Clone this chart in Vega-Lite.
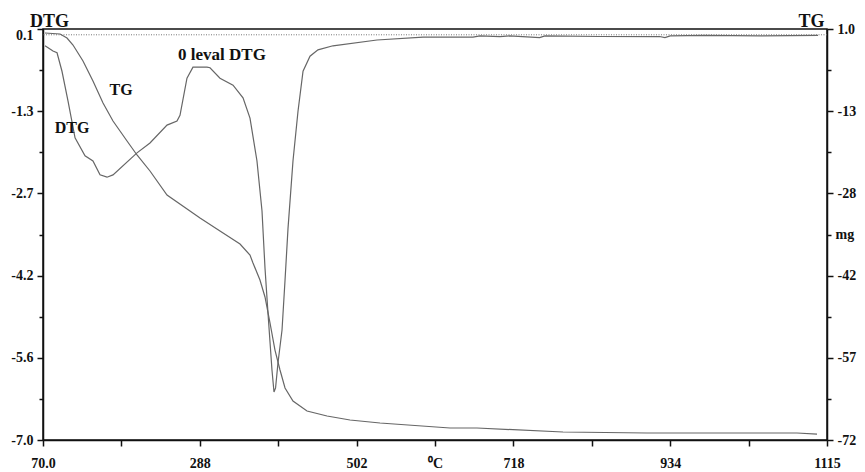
{
  "$schema": "https://vega.github.io/schema/vega-lite/v6.json",
  "width": 784,
  "height": 411,
  "autosize": "none",
  "padding": {"left": 43, "top": 29, "right": 38, "bottom": 32},
  "background": "white",
  "config": {
    "view": {"stroke": "#111", "strokeWidth": 1.5},
    "axis": {
      "grid": false,
      "domainColor": "#111",
      "domainWidth": 1.5,
      "tickColor": "#111",
      "tickWidth": 1.5,
      "labelFont": "Liberation Serif",
      "labelFontWeight": "bold",
      "labelFontSize": 14,
      "labelColor": "#111",
      "titleFont": "Liberation Serif",
      "titleFontWeight": "bold",
      "titleColor": "#111"
    }
  },
  "datasets": {
    "dtg": [
      {"t": 72.7, "v": -0.19}, {"t": 83.3, "v": -0.28}, {"t": 88.7, "v": -0.31}, {"t": 95.3, "v": -0.63},
      {"t": 103.3, "v": -1.14}, {"t": 112.7, "v": -1.78}, {"t": 126.0, "v": -2.09}, {"t": 136.6, "v": -2.18},
      {"t": 146.0, "v": -2.42}, {"t": 155.3, "v": -2.46}, {"t": 163.3, "v": -2.42}, {"t": 195.3, "v": -2.04},
      {"t": 212.6, "v": -1.87}, {"t": 235.3, "v": -1.56}, {"t": 248.6, "v": -1.49}, {"t": 252.6, "v": -1.39},
      {"t": 261.9, "v": -0.75}, {"t": 269.9, "v": -0.56}, {"t": 288.6, "v": -0.56}, {"t": 292.6, "v": -0.57},
      {"t": 305.9, "v": -0.75}, {"t": 323.3, "v": -0.87}, {"t": 336.6, "v": -1.09}, {"t": 345.9, "v": -1.44},
      {"t": 355.2, "v": -2.18}, {"t": 361.9, "v": -3.04}, {"t": 365.9, "v": -4.03}, {"t": 369.9, "v": -4.81},
      {"t": 375.2, "v": -5.79}, {"t": 377.9, "v": -6.17}, {"t": 380.0, "v": -6.1}, {"t": 383.2, "v": -5.67},
      {"t": 388.6, "v": -5.10}, {"t": 392.6, "v": -4.24}, {"t": 396.6, "v": -3.34}, {"t": 403.2, "v": -2.18},
      {"t": 409.9, "v": -1.32}, {"t": 416.6, "v": -0.63}, {"t": 425.9, "v": -0.37}, {"t": 436.5, "v": -0.26},
      {"t": 456.5, "v": -0.19}, {"t": 515.2, "v": -0.09}, {"t": 576.5, "v": -0.04}, {"t": 643.1, "v": -0.04},
      {"t": 652.5, "v": -0.02}, {"t": 679.0, "v": -0.03}, {"t": 692.0, "v": -0.02}, {"t": 732.0, "v": -0.05},
      {"t": 739.0, "v": -0.02}, {"t": 812.0, "v": -0.03}, {"t": 892.0, "v": -0.03}, {"t": 899.0, "v": -0.05},
      {"t": 906.0, "v": -0.02}, {"t": 952.0, "v": -0.01}, {"t": 1026.0, "v": -0.02}, {"t": 1103.0, "v": -0.01}
    ],
    "tg": [
      {"t": 72.7, "m": 0.29}, {"t": 92.7, "m": 0.11}, {"t": 102.0, "m": -0.60}, {"t": 110.0, "m": -1.84},
      {"t": 123.3, "m": -4.68}, {"t": 136.6, "m": -8.24}, {"t": 150.0, "m": -12.14}, {"t": 163.3, "m": -15.34},
      {"t": 182.0, "m": -18.89}, {"t": 195.3, "m": -21.38}, {"t": 212.6, "m": -24.22}, {"t": 235.3, "m": -28.48},
      {"t": 279.3, "m": -32.57}, {"t": 305.9, "m": -34.88}, {"t": 332.6, "m": -37.19}, {"t": 345.9, "m": -39.14},
      {"t": 349.9, "m": -40.56}, {"t": 359.2, "m": -43.58}, {"t": 365.9, "m": -46.60}, {"t": 372.6, "m": -51.22},
      {"t": 379.2, "m": -56.02}, {"t": 385.9, "m": -59.57}, {"t": 392.6, "m": -62.77}, {"t": 403.2, "m": -65.07},
      {"t": 421.9, "m": -66.85}, {"t": 448.6, "m": -67.74}, {"t": 479.2, "m": -68.45}, {"t": 519.2, "m": -68.98},
      {"t": 612.5, "m": -69.87}, {"t": 648.5, "m": -69.87}, {"t": 763.1, "m": -70.58}, {"t": 875.1, "m": -70.76},
      {"t": 1075.0, "m": -70.76}, {"t": 1101.7, "m": -70.94}
    ],
    "notes": [
      {"t": 308.6, "v": -0.35, "label": "0 leval DTG", "size": 17},
      {"t": 174.0, "v": -0.95, "label": "TG", "size": 16},
      {"t": 108.7, "v": -1.61, "label": "DTG", "size": 16}
    ]
  },
  "layer": [
    {
      "layer": [
        {
          "data": {"name": "dtg"},
          "mark": {"type": "line", "color": "#666", "strokeWidth": 1.2},
          "encoding": {
            "x": {
              "field": "t", "type": "quantitative",
              "scale": {"domain": [70, 1115], "nice": false, "zero": false},
              "axis": {
                "orient": "bottom",
                "values": [70, 174.5, 279, 383.5, 488, 592.5, 697, 801.5, 906, 1010.5, 1115],
                "labelExpr": "datum.value == 70 ? '70.0' : datum.value == 279 ? '288' : datum.value == 488 ? '502' : datum.value == 697 ? '718' : datum.value == 906 ? '934' : datum.value == 1115 ? '1115' : ''",
                "tickSize": 6,
                "labelPadding": 10,
                "labelBaseline": "top",
                "labelFlush": false,
                "labelOverlap": false,
                "title": "⁰C",
                "titleFontSize": 14,
                "titleX": 392,
                "titleY": 27,
                "titleAlign": "center",
                "titleBaseline": "alphabetic"
              }
            },
            "y": {
              "field": "v", "type": "quantitative",
              "scale": {"domain": [-7.0, 0.1], "nice": false, "zero": false},
              "axis": {
                "orient": "left",
                "values": [0.1, -0.61, -1.32, -2.03, -2.74, -3.45, -4.16, -4.87, -5.58, -6.29, -7.0],
                "labelExpr": "round(datum.value*100) == 10 ? '0.1' : round(datum.value*100) == -132 ? '-1.3' : round(datum.value*100) == -274 ? '-2.7' : round(datum.value*100) == -416 ? '-4.2' : round(datum.value*100) == -558 ? '-5.6' : round(datum.value*100) == -700 ? '-7.0' : ''",
                "tickSize": {"condition": {"test": "(round(datum.value*100) - 10) % 142 == 0", "value": 6}, "value": 4},
                "labelOffset": {"condition": {"test": "datum.value > 0", "value": 6}, "value": 0},
                "labelPadding": 4,
                "labelFlush": false,
                "labelOverlap": false,
                "title": "DTG",
                "titleFontSize": 18,
                "titleAngle": 0,
                "titleX": 6,
                "titleY": -3,
                "titleAlign": "center",
                "titleBaseline": "alphabetic"
              }
            }
          }
        },
        {
          "data": {"values": [{}]},
          "mark": {"type": "rule", "color": "#777", "strokeWidth": 1, "strokeDash": [1, 1.5]},
          "encoding": {"y": {"datum": 0}}
        },
        {
          "data": {"name": "notes"},
          "mark": {"type": "text", "font": "Liberation Serif", "fontWeight": "bold", "color": "#111", "align": "center", "baseline": "middle"},
          "encoding": {
            "x": {"field": "t", "type": "quantitative"},
            "y": {"field": "v", "type": "quantitative"},
            "text": {"field": "label"},
            "size": {"field": "size", "type": "quantitative", "scale": null, "legend": null}
          }
        }
      ]
    },
    {
      "data": {"name": "tg"},
      "mark": {"type": "line", "color": "#666", "strokeWidth": 1.2},
      "encoding": {
        "x": {"field": "t", "type": "quantitative"},
        "y": {
          "field": "m", "type": "quantitative",
          "scale": {"domain": [-72, 1], "nice": false, "zero": false},
          "axis": {
            "orient": "right",
            "values": [1, -6.3, -13.6, -20.9, -28.2, -35.5, -42.8, -50.1, -57.4, -64.7, -72],
            "labelExpr": "round(datum.value*10) == 10 ? '1.0' : round(datum.value*10) == -136 ? '-13' : round(datum.value*10) == -282 ? '-28' : round(datum.value*10) == -355 ? 'mg' : round(datum.value*10) == -428 ? '-42' : round(datum.value*10) == -574 ? '-57' : round(datum.value*10) == -720 ? '-72' : ''",
            "tickSize": {"condition": {"test": "(round(datum.value*10) - 10) % 146 == 0", "value": 6}, "value": 4},
            "labelPadding": 4,
            "labelFlush": false,
            "labelOverlap": false,
            "title": "TG",
            "titleFontSize": 18,
            "titleAngle": 0,
            "titleX": -16,
            "titleY": -3,
            "titleAlign": "center",
            "titleBaseline": "alphabetic"
          }
        }
      }
    }
  ],
  "resolve": {"scale": {"y": "independent"}}
}
